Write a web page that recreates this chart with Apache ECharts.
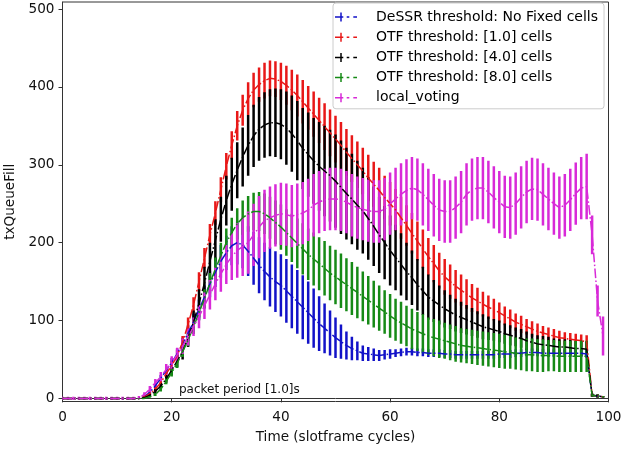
<!DOCTYPE html>
<html>
<head>
<meta charset="utf-8">
<script src="https://cdn.jsdelivr.net/npm/echarts@6/dist/echarts.min.js"></script>
<style>
  html, body { margin: 0; padding: 0; background: #ffffff; }
  #chart { width: 621px; height: 449px; }
</style>
</head>
<body>
<div id="chart"></div>
<script>
// Time axis: one sample per slotframe cycle
const cycles = Array.from({ length: 100 }, (_, i) => i);

const seriesNames = [
  'DeSSR threshold: No Fixed cells',
  'OTF threshold: [1.0] cells',
  'OTF threshold: [4.0] cells',
  'OTF threshold: [8.0] cells',
  'local_voting'
];

// mean txQueueFill per cycle, and the matching error half-widths
const dessrMean = [
  0,0,0,0,0,0,0,0,0,0,
  0,0,0,0,0,2,8,16,26,36,
  46,57,70,84,98,114,130,147,162,176,
  187,196,200,197,189,180,171,163,156,150,
  145,138,131,124,117,110,103,96,90,84,
  78,73,68,64,61,58,57,56,55,56,
  57,58,59,60,60,59,59,58,58,58,
  57,57,56,56,56,56,56,56,56,56,
  57,57,57,58,58,59,59,59,58,58,
  58,58,58,58,58,58,57,4,3,2
];
const dessrErr = [
  0,0,0,0,0,0,0,0,0,0,
  0,0,0,0,0,1,2,3,4,5,
  6,7,8,10,11,13,15,17,19,21,
  22,25,28,30,32,34,36,37,38,39,
  40,41,41,41,41,40,38,35,32,29,
  26,22,18,15,12,10,9,8,7,6,
  6,5,5,5,5,5,5,5,5,5,
  5,5,5,5,5,5,5,5,5,5,
  5,5,5,5,5,5,5,5,5,5,
  5,5,5,5,5,5,5,2,2,1
];

const otf1Mean = [
  0,0,0,0,0,0,0,0,0,0,
  0,0,0,0,0,2,6,12,20,32,
  42,55,72,95,120,150,180,210,238,268,
  298,325,350,370,385,396,403,408,411,410,
  407,402,396,389,381,373,365,357,349,341,
  333,325,316,308,300,292,283,275,267,258,
  250,242,232,222,212,202,192,182,173,164,
  156,150,144,139,134,129,125,121,117,114,
  110,106,102,98,95,92,89,86,84,82,
  80,78,77,76,75,74,73,4,3,2
];
const otf1Err = [
  0,0,0,0,0,0,0,0,0,0,
  0,0,0,0,0,1,2,3,4,5,
  6,7,8,9,10,12,13,14,15,16,
  17,18,19,20,21,22,22,23,23,23,
  24,25,26,27,28,28,29,29,30,30,
  30,30,30,30,30,30,30,29,29,28,
  28,27,27,26,26,25,25,24,24,23,
  23,22,21,20,19,18,17,16,15,14,
  13,12,12,11,11,10,10,10,9,9,
  9,9,8,8,8,8,8,2,2,1
];

const otf4Mean = [
  0,0,0,0,0,0,0,0,0,0,
  0,0,0,0,0,1,4,9,16,25,
  36,48,60,78,98,122,148,176,203,230,
  254,275,293,310,325,337,346,351,354,354,
  352,347,340,331,321,313,305,298,292,286,
  279,271,263,256,248,241,231,221,210,200,
  190,181,172,163,155,146,138,130,125,120,
  115,111,107,104,101,98,95,92,90,88,
  86,83,81,79,77,74,72,70,69,68,
  67,66,66,65,64,64,63,4,3,2
];
const otf4Err = [
  0,0,0,0,0,0,0,0,0,0,
  0,0,0,0,0,1,2,3,4,5,
  6,8,10,12,15,18,21,24,27,29,
  32,34,36,38,39,40,41,42,43,44,
  45,47,49,51,52,54,55,57,58,59,
  60,60,59,58,57,55,53,51,49,47,
  45,42,40,37,35,33,31,29,27,25,
  24,22,21,20,19,18,17,16,15,14,
  14,13,13,12,12,12,11,11,11,11,
  10,10,10,10,10,10,10,2,2,1
];

const otf8Mean = [
  0,0,0,0,0,0,0,0,0,0,
  0,0,0,0,0,0,2,5,12,22,
  33,45,60,75,92,110,128,148,166,183,
  200,213,224,232,237,240,240,237,232,226,
  220,213,206,199,192,185,179,173,167,161,
  156,151,146,141,136,131,126,121,116,111,
  106,101,97,93,89,86,83,80,78,76,
  74,72,70,68,67,66,65,64,63,62,
  61,60,59,58,57,56,56,55,55,55,
  55,54,54,54,54,54,54,4,3,2
];
const otf8Err = [
  0,0,0,0,0,0,0,0,0,0,
  0,0,0,0,0,0,1,2,3,4,
  5,6,7,8,9,10,12,13,15,17,
  18,19,20,22,23,24,25,26,27,28,
  29,30,31,32,33,33,34,34,35,35,
  35,35,34,34,33,32,31,30,29,28,
  28,27,27,26,26,25,25,24,24,24,
  23,23,23,22,22,22,22,22,22,22,
  22,22,21,21,21,21,21,21,21,20,
  20,20,20,20,20,20,20,2,2,1
];

const votingMean = [
  0,0,0,0,0,0,0,0,0,0,
  0,0,0,0,1,5,12,20,28,37,
  46,56,67,79,92,105,119,133,147,160,
  172,182,190,195,200,210,220,228,232,235,
  237,236,234,236,238,242,248,252,255,256,
  256,255,252,248,245,243,241,240,240,243,
  250,256,262,267,270,268,262,255,248,242,
  240,240,245,252,262,268,270,270,265,258,
  252,246,245,250,258,265,269,268,262,256,
  250,245,248,255,263,270,272,210,125,80
];
const votingErr = [
  2,2,2,2,2,2,2,2,2,2,
  2,2,2,2,2,3,4,5,6,7,
  8,9,10,11,12,15,17,19,21,23,
  25,30,35,38,40,40,40,40,40,40,
  40,40,40,40,40,40,40,40,40,40,
  40,40,40,40,40,40,40,40,40,40,
  40,40,40,40,40,40,40,40,40,40,
  40,40,40,40,40,40,40,40,40,40,
  40,40,40,40,40,40,40,40,40,40,
  40,40,40,40,40,40,42,25,20,25
];

const yTicks = [0, 100, 200, 300, 400, 500];
const annotation = 'packet period [1.0]s';

const colors = ['#1212c8', '#e81818', '#000000', '#168a16', '#d82ad8'];
const means = [dessrMean, otf1Mean, otf4Mean, otf8Mean, votingMean];
const errs = [dessrErr, otf1Err, otf4Err, otf8Err, votingErr];

const FONT = 'DejaVu Sans';
const AXIS_FONT = 13.6;

// vertical error bar drawn through the axis scales
function errorBars(idx) {
  const color = colors[idx];
  return {
    type: 'custom',
    name: seriesNames[idx] + ' (err)',
    silent: true,
    z: 2,
    clip: true,
    encode: { x: 0, y: [1, 2] },
    data: cycles.map((c, i) => [c, means[idx][i] - errs[idx][i], means[idx][i] + errs[idx][i]]),
    renderItem(params, api) {
      const x = api.value(0);
      const lo = api.coord([x, api.value(1)]);
      const hi = api.coord([x, api.value(2)]);
      return {
        type: 'line',
        shape: { x1: lo[0], y1: lo[1], x2: hi[0], y2: hi[1] },
        style: { stroke: color, lineWidth: 2.5 }
      };
    }
  };
}

function meanLine(idx) {
  return {
    type: 'line',
    name: seriesNames[idx],
    z: 3,
    showSymbol: false,
    symbol: 'none',
    silent: true,
    color: colors[idx],
    lineStyle: { color: colors[idx], width: 1.5, type: [9.6, 2.4, 1.5, 2.4] },
    data: cycles.map((c, i) => [c, means[idx][i]])
  };
}

// legend handle: solid stub with a bar, then dash-dot tail
const handle = 'path://M0 3.75H8.3V5.25H0Z M5.25 0H6.75V9H5.25Z M11.7 3.75H14.3V5.25H11.7Z M18.3 3.75H22V5.25H18.3Z';

const chart = echarts.init(document.getElementById('chart'), null, { renderer: 'canvas' });
chart.setOption({
  animation: false,
  backgroundColor: '#ffffff',
  textStyle: { fontFamily: FONT },
  grid: {
    left: 62.5, right: 12.5, top: 2, bottom: 47.5,
    outerBoundsMode: 'none',
    containLabel: false,
    show: true, borderColor: '#333333', borderWidth: 1, backgroundColor: 'transparent'
  },
  xAxis: {
    type: 'value', min: 0, max: 100, interval: 20,
    name: 'Time (slotframe cycles)', nameLocation: 'middle', nameGap: 29,
    nameTextStyle: { fontFamily: FONT, fontSize: AXIS_FONT, color: '#111' },
    axisLine: { show: true, lineStyle: { color: '#333333' } },
    axisTick: { show: true, length: 4, lineStyle: { color: '#333333' } },
    axisLabel: { fontFamily: FONT, fontSize: AXIS_FONT, color: '#111', margin: 9 },
    splitLine: { show: false }
  },
  yAxis: {
    type: 'value', min: -4, max: 509,
    name: 'txQueueFill', nameLocation: 'middle', nameGap: 41,
    nameTextStyle: { fontFamily: FONT, fontSize: AXIS_FONT, color: '#111' },
    axisLine: { show: true, lineStyle: { color: '#333333' } },
    axisTick: { show: true, length: 4, customValues: yTicks, lineStyle: { color: '#333333' } },
    axisLabel: { fontFamily: FONT, fontSize: AXIS_FONT, color: '#111', margin: 8, customValues: yTicks },
    splitLine: { show: false }
  },
  legend: {
    orient: 'vertical',
    left: 333, top: 3,
    padding: [7, 6, 4, 2],
    itemWidth: 22, itemHeight: 9, itemGap: 6.2,
    backgroundColor: 'rgba(255,255,255,0.85)',
    borderColor: '#cccccc', borderWidth: 1, borderRadius: 3,
    textStyle: { fontFamily: FONT, fontSize: 14, color: '#000', lineHeight: 14, padding: [0, 0, 0, 14] },
    data: seriesNames.map(n => ({ name: n, icon: handle })),
    selectedMode: false
  },
  graphic: [{
    type: 'text', left: 179, top: 384, silent: true,
    style: { text: annotation, fontFamily: FONT, fontSize: 12, fill: '#111' }
  }],
  series: [0, 1, 2, 3, 4].map(errorBars).concat([0, 1, 2, 3, 4].map(meanLine))
});
</script>
</body>
</html>
